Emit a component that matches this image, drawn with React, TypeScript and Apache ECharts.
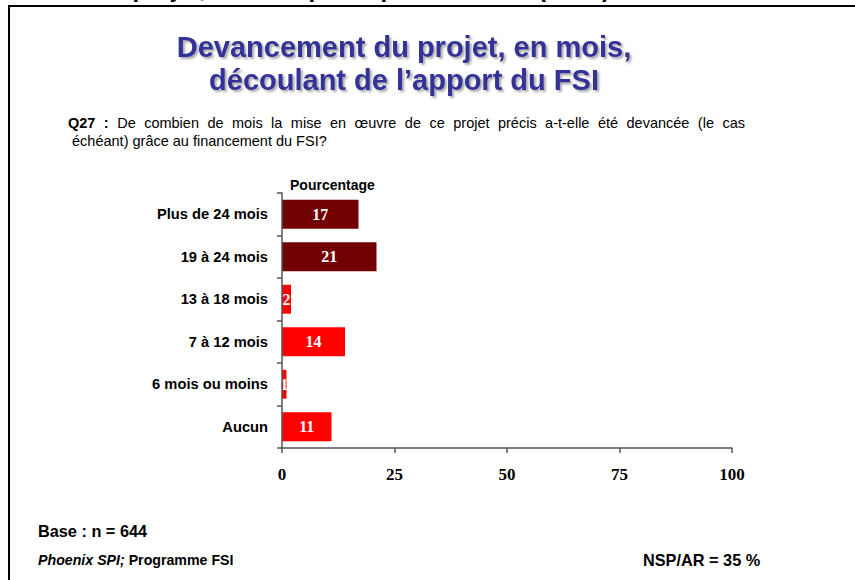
import React, { useEffect, useRef } from "react";
import * as echarts from "echarts";

const categories = [
  "Plus de 24 mois",
  "19 à 24 mois",
  "13 à 18 mois",
  "7 à 12 mois",
  "6 mois ou moins",
  "Aucun",
];
const values = [17, 21, 2, 14, 1, 11];
const longDelayCount = 2; // first two categories drawn in dark red
const xMin = 0;
const xMax = 100;
const xInterval = 25;

const titleLines = ["Devancement du projet, en mois,", "découlant de l’apport du FSI"];
const questionLabel = "Q27 :";
const questionLine1 = "De combien de mois la mise en œuvre de ce projet précis a-t-elle été devancée (le cas";
const questionLine2 = " échéant) grâce au financement du FSI?";
const axisTitle = "Pourcentage";
const baseText = "Base : n = 644";
const sourceItalic = "Phoenix SPI;";
const sourceRest = " Programme FSI";
const nspText = "NSP/AR = 35 %";
const cutTopText = "Avancement du projet, selon la participation au FSI (suite)";

const SANS = "'Liberation Sans', Arial, Helvetica, sans-serif";
const SERIF = "'Liberation Serif', 'Times New Roman', serif";
const DARK_RED = "#720000";
const RED = "#FF0000";
const TITLE_BLUE = "#333399";
const AXIS_COLOR = "#555555";
const Q_SIZE = 14.5;

// justified first question line (text box 68 → 745)
function justifiedLine(x0: number, x1: number, y: number): any[] {
  const canvas = document.createElement("canvas");
  const ctx = canvas.getContext("2d")!;
  const tokens: { t: string; bold: boolean }[] = [];
  questionLabel.split(" ").forEach((w) => tokens.push({ t: w, bold: true }));
  questionLine1.split(" ").forEach((w) => tokens.push({ t: w, bold: false }));
  const widths = tokens.map((tk) => {
    ctx.font = `${tk.bold ? "bold " : ""}${Q_SIZE}px ${SANS}`;
    return ctx.measureText(tk.t).width;
  });
  const total = widths.reduce((a, b) => a + b, 0);
  const gap = (x1 - x0 - total) / (tokens.length - 1);
  let x = x0;
  return tokens.map((tk, i) => {
    const el = {
      type: "text",
      x,
      y,
      style: {
        text: tk.t,
        font: `${tk.bold ? "bold " : ""}${Q_SIZE}px ${SANS}`,
        fill: "#000",
        align: "left",
        verticalAlign: "middle",
      },
    };
    x += widths[i] + gap;
    return el;
  });
}

export default function App() {
  const ref = useRef<HTMLDivElement>(null);

  useEffect(() => {
    if (!ref.current) return;
    const chart = echarts.init(ref.current, null, { renderer: "svg" });

    const titleStyle = (text: string) => ({
      text,
      font: `bold 29px ${SANS}`,
      fill: TITLE_BLUE,
      align: "center",
      verticalAlign: "middle",
      textShadowColor: "rgba(110,110,110,0.6)",
      textShadowOffsetX: 2,
      textShadowOffsetY: 2,
      textShadowBlur: 2,
    });

    const option: any = {
      animation: false,
      backgroundColor: "#ffffff",
      grid: { left: 282, top: 193, width: 450, height: 255, containLabel: false },
      xAxis: {
        type: "value",
        min: xMin,
        max: xMax,
        interval: xInterval,
        position: "bottom",
        axisLine: { show: true, lineStyle: { color: AXIS_COLOR, width: 1.5 } },
        axisTick: { show: true, inside: false, length: 5, lineStyle: { color: AXIS_COLOR, width: 1.5 } },
        splitLine: { show: false },
        axisLabel: {
          margin: 18,
          color: "#000",
          fontFamily: SERIF,
          fontWeight: "bold",
          fontSize: 17,
        },
      },
      yAxis: {
        type: "category",
        data: categories,
        inverse: true,
        z: 5,
        axisLine: { show: true, lineStyle: { color: AXIS_COLOR, width: 1.5 } },
        axisTick: { show: true, inside: false, length: 5, alignWithLabel: false, lineStyle: { color: AXIS_COLOR, width: 1.5 } },
        splitLine: { show: false },
        axisLabel: {
          margin: 14,
          color: "#000",
          fontFamily: SANS,
          fontWeight: "bold",
          fontSize: 14.7,
        },
      },
      series: [
        {
          type: "bar",
          data: values.map((v, i) => ({
            value: v,
            itemStyle: { color: i < longDelayCount ? DARK_RED : RED },
          })),
          barCategoryGap: "32%",
          label: {
            show: true,
            position: "inside",
            color: "#ffffff",
            fontFamily: SERIF,
            fontWeight: "bold",
            fontSize: 16,
          },
        },
      ],
      graphic: [
        {
          type: "polyline",
          silent: true,
          shape: { points: [[9, 590], [9, 6], [870, 6]] },
          style: { stroke: "#000", lineWidth: 2, fill: null },
        },
        {
          type: "text",
          x: -52,
          y: -12,
          style: {
            text: cutTopText,
            font: `bold 24px ${SANS}`,
            fill: "#000",
            align: "left",
            verticalAlign: "middle",
          },
        },
        { type: "text", x: 404, y: 47, style: titleStyle(titleLines[0]) },
        { type: "text", x: 404, y: 80, style: titleStyle(titleLines[1]) },
        ...justifiedLine(68, 745, 123),
        {
          type: "text",
          x: 68,
          y: 141,
          style: {
            text: questionLine2,
            font: `normal ${Q_SIZE}px ${SANS}`,
            fill: "#000",
            align: "left",
            verticalAlign: "middle",
          },
        },
        {
          type: "text",
          x: 290,
          y: 185,
          style: {
            text: axisTitle,
            font: `bold 14px ${SANS}`,
            fill: "#000",
            align: "left",
            verticalAlign: "middle",
          },
        },
        {
          type: "text",
          x: 38,
          y: 531,
          style: {
            text: baseText,
            font: `bold 16.3px ${SANS}`,
            fill: "#000",
            align: "left",
            verticalAlign: "middle",
          },
        },
        {
          type: "text",
          x: 38,
          y: 560,
          style: {
            text: `{i|${sourceItalic}}{b|${sourceRest}}`,
            align: "left",
            verticalAlign: "middle",
            rich: {
              i: { fontFamily: SANS, fontWeight: "bold", fontStyle: "italic", fontSize: 14.2, fill: "#000" },
              b: { fontFamily: SANS, fontWeight: "bold", fontSize: 14.2, fill: "#000" },
            },
          },
        },
        {
          type: "text",
          x: 643,
          y: 560,
          style: {
            text: nspText,
            font: `bold 16.3px ${SANS}`,
            fill: "#000",
            align: "left",
            verticalAlign: "middle",
          },
        },
      ],
    };

    chart.setOption(option);
    return () => chart.dispose();
  }, []);

  return (
    <div
      ref={ref}
      style={{ position: "absolute", left: 0, top: 0, width: 855, height: 580, background: "#fff" }}
    />
  );
}
